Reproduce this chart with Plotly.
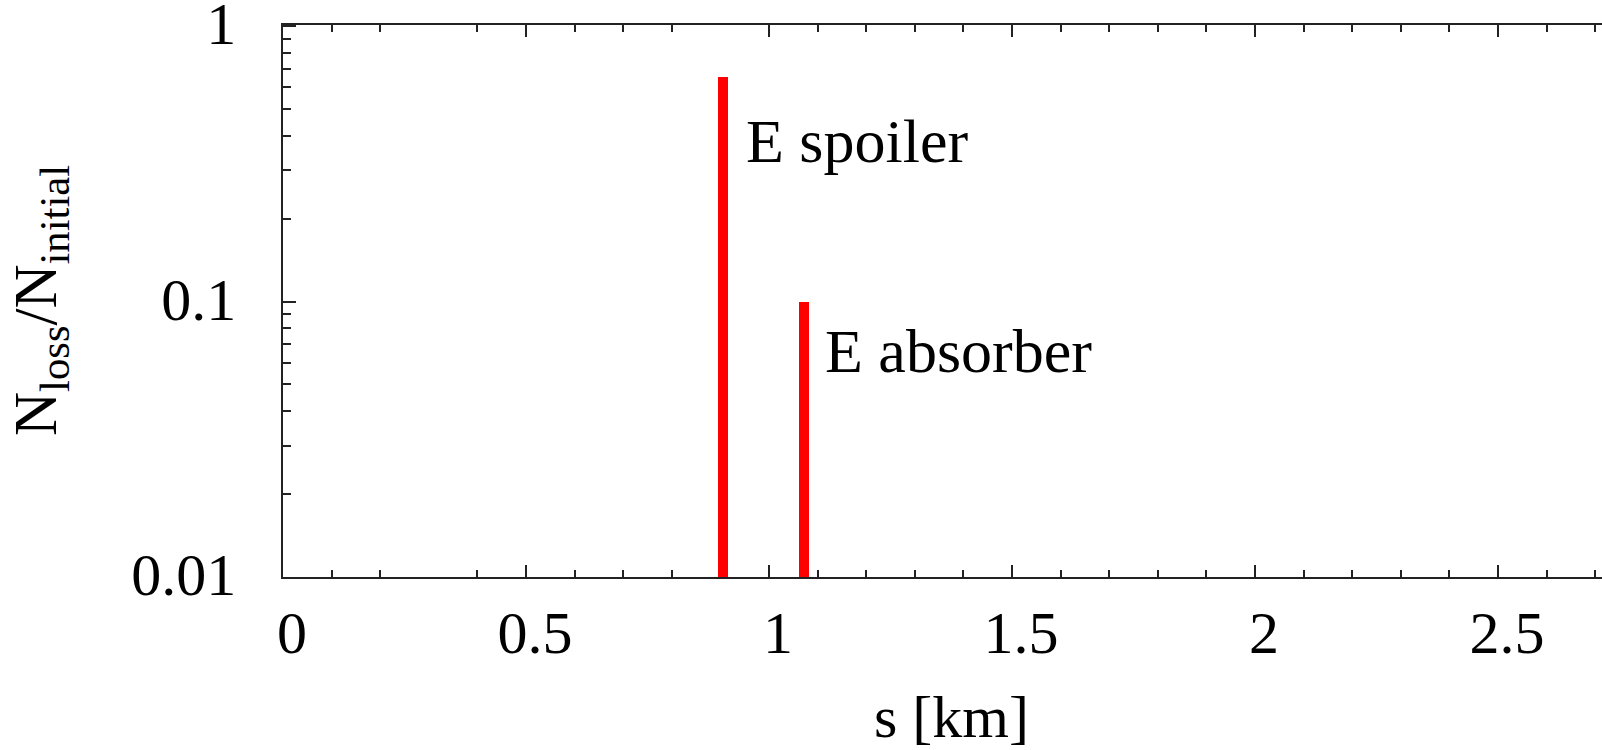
import plotly.graph_objects as go

# Data
positions_km = [0.905, 1.072]
loss_fraction = [0.655, 0.100]
element_labels = ["E spoiler", "E absorber"]

x_major_ticks = [0, 0.5, 1, 1.5, 2, 2.5]
x_minor_ticks = [0.1, 0.2, 0.4, 0.6, 0.7, 0.8, 1.1, 1.2, 1.3, 1.4, 1.6, 1.7, 1.8, 1.9,
                 2.1, 2.2, 2.3, 2.4, 2.6, 2.7]
y_tick_vals = [0.01, 0.1, 1]
y_tick_text = ["0.01", "0.1", "1"]
y_minor_ticks = [m * d for d in (0.01, 0.1) for m in range(2, 10)]

FONT = "Liberation Serif, Times New Roman, serif"
FS = 60
FS_LABEL = 62
AX = "#222222"

fig = go.Figure()
fig.add_trace(go.Bar(
    x=positions_km, y=loss_fraction, width=0.02,
    marker=dict(color="#ff0000", line=dict(width=0)),
    showlegend=False, hoverinfo="x+y",
))

# text labels next to bars (log axis: y in log10 units)
label_y = [-0.418, -1.178]
label_dx = [0.046, 0.042]
for x, dx, ly, t in zip(positions_km, label_dx, label_y, element_labels):
    fig.add_annotation(x=x + dx, y=ly, xref="x", yref="y", text=t, showarrow=False,
                       xanchor="left", yanchor="middle", borderpad=0,
                       font=dict(family=FONT, size=FS_LABEL, color="black"))

# axis titles
fig.add_annotation(x=1.375, xref="x", y=0, yref="paper", yshift=-140,
                   text="s [km]", showarrow=False, xanchor="center", yanchor="middle",
                   font=dict(family=FONT, size=FS, color="black"))
fig.add_annotation(x=0, xref="paper", xshift=-243, y=0.5, yref="paper",
                   text="N<sub>loss</sub>/N<sub>initial</sub>", textangle=-90,
                   showarrow=False, xanchor="center", yanchor="middle",
                   font=dict(family=FONT, size=61, color="black"))

fig.update_layout(
    width=1602, height=750,
    margin=dict(l=283, r=0, t=25, b=173, autoexpand=False),
    paper_bgcolor="white", plot_bgcolor="white",
    font=dict(family=FONT, size=FS, color="black"),
    bargap=0,
    xaxis=dict(
        range=[0, 2.714], showgrid=False, zeroline=False,
        showline=True, linecolor=AX, linewidth=1.5, mirror="ticks",
        ticks="inside", ticklen=12, tickwidth=1.5, tickcolor=AX,
        tickmode="array", tickvals=x_major_ticks,
        ticktext=[f"{v:g}" for v in x_major_ticks],
        ticklabelshift=9, ticklabelstandoff=2,
        minor=dict(tickmode="array", tickvals=x_minor_ticks, ticks="inside",
                   ticklen=7, tickwidth=1.5, tickcolor=AX, showgrid=False),
        tickfont=dict(family=FONT, size=FS, color="black"),
    ),
    yaxis=dict(
        type="log", range=[-2, 0.004], showgrid=False, zeroline=False,
        showline=True, linecolor=AX, linewidth=1.5, mirror=False,
        ticks="inside", ticklen=13, tickwidth=1.5, tickcolor=AX,
        tickmode="array", tickvals=y_tick_vals, ticktext=y_tick_text,
        ticklabelshift=-3, ticklabelstandoff=33, ticklabeloverflow="allow",
        minor=dict(tickmode="array", tickvals=y_minor_ticks, ticks="inside",
                   ticklen=8, tickwidth=1.5, tickcolor=AX, showgrid=False),
        tickfont=dict(family=FONT, size=FS, color="black"),
    ),
)

fig.write_html(
    "out.html",
    config={"displayModeBar": False},
    post_script="document.body.style.margin='0';document.body.style.overflow='hidden';",
)
